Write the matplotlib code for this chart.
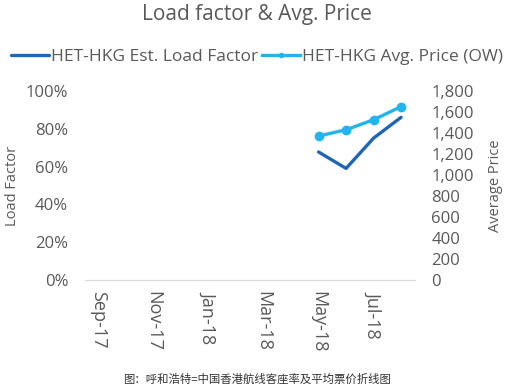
import matplotlib
matplotlib.use('Agg')
import matplotlib.pyplot as plt
from matplotlib.ticker import FuncFormatter, MultipleLocator
import numpy as np

plt.rcParams['font.family'] = ['Open Sans', 'Noto Sans CJK SC', 'DejaVu Sans']

months = ['Sep-17', 'Oct-17', 'Nov-17', 'Dec-17', 'Jan-18', 'Feb-18',
          'Mar-18', 'Apr-18', 'May-18', 'Jun-18', 'Jul-18', 'Aug-18']
load_factor = [None] * 8 + [0.677, 0.59, 0.75, 0.86]
avg_price = [None] * 8 + [1370, 1430, 1525, 1650]

DARK = '#1f66b8'
LIGHT = '#21b4ee'
TEXT = '#595959'

x = np.arange(len(months))
lf = np.array([np.nan if v is None else v for v in load_factor])
pr = np.array([np.nan if v is None else v for v in avg_price])

fig = plt.figure(figsize=(5.14, 3.9), dpi=100)
ax = fig.add_axes([0.165, 0.282, 0.642, 0.485])
ax2 = ax.twinx()

l1, = ax.plot(x, lf, color=DARK, lw=2.4, solid_capstyle='round')
l2, = ax2.plot(x, pr, color=LIGHT, lw=2.4, marker='o', ms=6)

ax.set_xlim(-0.5, len(months) - 0.5)
ax.set_ylim(0, 1.0)
ax2.set_ylim(0, 1800)
ax.yaxis.set_major_locator(MultipleLocator(0.2))
ax.yaxis.set_major_formatter(FuncFormatter(lambda v, p: f'{v:.0%}'))
ax2.yaxis.set_major_locator(MultipleLocator(200))
ax2.yaxis.set_major_formatter(FuncFormatter(lambda v, p: f'{v:,.0f}'))

ax.set_xticks(x[::2])
ax.set_xticklabels(months[::2], rotation=270, fontsize=13, color=TEXT,
                   va='top', ha='center')

for a in (ax, ax2):
    for s in a.spines.values():
        s.set_visible(False)
    a.tick_params(length=0, colors=TEXT, labelsize=12)
ax.spines['bottom'].set_visible(True)
ax.spines['bottom'].set_color('#d9d9d9')
ax.tick_params(axis='y', pad=12)
ax.tick_params(axis='x', pad=8, labelsize=13)
ax2.tick_params(axis='y', pad=12)

ax.set_ylabel('Load Factor', color=TEXT, fontsize=10.5, labelpad=4)
ax2.set_ylabel('Average Price', color=TEXT, fontsize=10.5, rotation=90, labelpad=10)

fig.text(0.5, 0.963, 'Load factor & Avg. Price', ha='center', va='center',
         fontsize=15, color=TEXT)
fig.legend([l1, l2], ['HET-HKG Est. Load Factor', 'HET-HKG Avg. Price (OW)'],
           loc='center', bbox_to_anchor=(0.5, 0.855), ncol=2, frameon=False,
           fontsize=12.5, labelcolor=TEXT, handlelength=2.2, handletextpad=0.1,
           columnspacing=0.2, markerscale=0.5)
fig.text(0.5, 0.028, '图：呼和浩特=中国香港航线客座率及平均票价折线图',
         ha='center', va='center', fontsize=8.2, color='#333333',
         family=['Noto Sans CJK SC', 'DejaVu Sans'])

fig.savefig('out.png', dpi=100)
